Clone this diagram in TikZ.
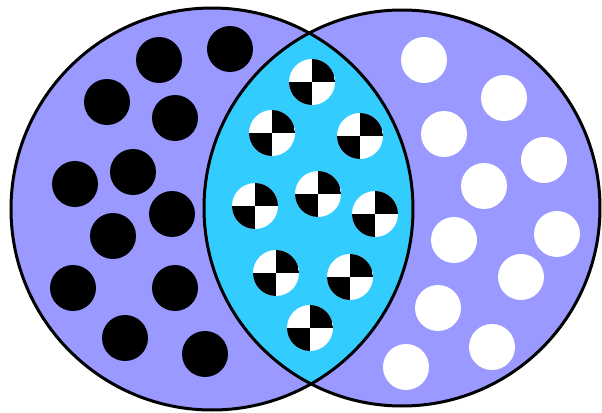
\documentclass[tikz,border=0pt]{standalone}
\usepackage{tikz}
\usetikzlibrary{calc}
\definecolor{setpurple}{HTML}{9999FF}
\definecolor{lenscyan}{HTML}{33CCFF}

\begin{document}
\begin{tikzpicture}[
  x=0.5pt, y=-0.5pt,
  setcircle/.style={draw=black, line width=1.5pt},
  blackdot/.style={circle, fill=black, inner sep=0pt, minimum size=23pt},
  whitedot/.style={circle, fill=white, inner sep=0pt, minimum size=23pt},
  checkdot/.style={circle, fill=white, inner sep=0pt, minimum size=23pt,
    path picture={
      \fill[black] (path picture bounding box.center) rectangle (path picture bounding box.north east);
      \fill[black] (path picture bounding box.center) rectangle (path picture bounding box.south west);
    }}
]
  \useasboundingbox (0,0) rectangle (602,413);

  \coordinate (left) at (212,209);
  \coordinate (right) at (402,208);

  % the two sets and their overlap
  \fill[setpurple] (left) circle (201);
  \fill[setpurple] (right) circle (198);
  \begin{scope}
    \clip (left) circle (201);
    \fill[lenscyan] (right) circle (198);
  \end{scope}
  \draw[setcircle] (left) circle (201);
  \draw[setcircle] (right) circle (198);

  % left set
  \foreach \x/\y [count=\i] in {159/60, 230/49, 107/102, 175/118, 75/184, 133/172,
      172/214, 113/236, 73/288, 175/288, 125/338, 205/354}
    \node[blackdot] (b\i) at (\x,\y) {};

  % overlap
  \foreach \x/\y [count=\i] in {312/82, 272/133, 360/136, 318/194, 255/206,
      375/214, 276/273, 350/277, 310/328}
    \node[checkdot] (c\i) at (\x,\y) {};

  % right set
  \foreach \x/\y [count=\i] in {424/60, 504/98, 444/134, 544/160, 484/186, 557/234,
      454/240, 521/277, 438/308, 492/347, 406/367}
    \node[whitedot] (w\i) at (\x,\y) {};
\end{tikzpicture}
\end{document}
